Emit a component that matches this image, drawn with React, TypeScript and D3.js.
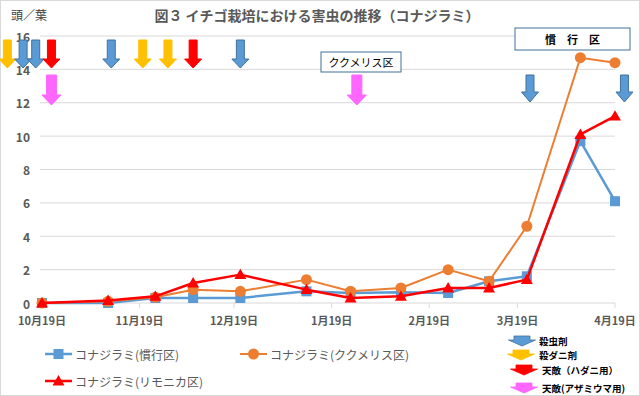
import React, { useEffect, useRef } from "react";
import * as d3 from "d3";

// survey dates (10/19 .. 4/19)
const surveyDates = [
  "2014-10-19", "2014-11-09", "2014-11-24", "2014-12-06", "2014-12-21",
  "2015-01-11", "2015-01-25", "2015-02-10", "2015-02-25", "2015-03-10",
  "2015-03-22", "2015-04-08", "2015-04-19",
];
// 頭／葉
const kankou = [0, 0, 0.3, 0.3, 0.3, 0.7, 0.6, 0.65, 0.6, 1.3, 1.6, 9.7, 6.1];
const kukumeris = [0, 0.1, 0.35, 0.8, 0.7, 1.4, 0.7, 0.9, 2.0, 1.3, 4.6, 14.7, 14.4];
const rimonika = [0, 0.15, 0.4, 1.2, 1.7, 0.8, 0.3, 0.4, 0.9, 0.9, 1.4, 10.1, 11.2];

const tickDates = [
  "2014-10-19", "2014-11-19", "2014-12-19", "2015-01-19",
  "2015-02-19", "2015-03-19", "2015-04-19",
];
const yTicks = [0, 2, 4, 6, 8, 10, 12, 14, 16];

// treatment arrows: upper row and lower row
const sprayUpper = [
  { date: "2014-10-08", kind: "mite" },
  { date: "2014-10-13", kind: "insect" },
  { date: "2014-10-17", kind: "insect" },
  { date: "2014-10-22", kind: "enemySpider" },
  { date: "2014-11-10", kind: "insect" },
  { date: "2014-11-20", kind: "mite" },
  { date: "2014-11-28", kind: "mite" },
  { date: "2014-12-06", kind: "enemySpider" },
  { date: "2014-12-21", kind: "insect" },
];
const sprayLower = [
  { date: "2014-10-22", kind: "enemyThrips" },
  { date: "2015-01-27", kind: "enemyThrips" },
  { date: "2015-03-23", kind: "insect" },
  { date: "2015-04-22", kind: "insect" },
];

const seriesNames = ["コナジラミ(慣行区)", "コナジラミ(ククメリス区)", "コナジラミ(リモニカ区)"];
const arrowKinds = ["insect", "mite", "enemySpider", "enemyThrips"];
const arrowNames = ["殺虫剤", "殺ダニ剤", "天敵（ハダニ用）", "天敵(アザミウマ用)"];

const arrowFill: Record<string, string> = {
  insect: "#5b9bd5",
  mite: "#ffc000",
  enemySpider: "#ff0000",
  enemyThrips: "#ff66ff",
};
const arrowStroke: Record<string, string> = {
  insect: "#41719c",
  mite: "#ffc000",
  enemySpider: "#ff0000",
  enemyThrips: "#ff66ff",
};

const FONT = "'Noto Sans CJK JP', 'Noto Sans', sans-serif";

function arrowPath(cx: number, top: number, h: number, sw: number, hw: number, hh: number) {
  const p = d3.path();
  p.moveTo(cx - sw / 2, top);
  p.lineTo(cx + sw / 2, top);
  p.lineTo(cx + sw / 2, top + h - hh);
  p.lineTo(cx + hw / 2, top + h - hh);
  p.lineTo(cx, top + h);
  p.lineTo(cx - hw / 2, top + h - hh);
  p.lineTo(cx - sw / 2, top + h - hh);
  p.closePath();
  return p.toString();
}

const App: React.FC = () => {
  const ref = useRef<SVGSVGElement | null>(null);

  useEffect(() => {
    if (!ref.current) return;
    const width = 640;
    const height = 396;
    const svg = d3.select(ref.current);
    svg.selectAll("*").remove();
    svg.attr("width", width).attr("height", height);

    const parse = d3.timeParse("%Y-%m-%d");
    const x = d3.scaleTime()
      .domain([parse("2014-10-19")!, parse("2015-04-19")!])
      .range([42, 615]);
    const y = d3.scaleLinear().domain([0, 16]).range([303, 36]);

    svg.append("rect")
      .attr("x", 0.5).attr("y", 0.5)
      .attr("width", width - 1).attr("height", height - 1)
      .attr("fill", "#fff").attr("stroke", "#d9d9d9");

    // grid
    yTicks.forEach(t => {
      svg.append("line")
        .attr("x1", 40).attr("x2", 615)
        .attr("y1", y(t)).attr("y2", y(t))
        .attr("stroke", "#d9d9d9").attr("stroke-width", 1);
      svg.append("text")
        .attr("x", 30).attr("y", y(t))
        .attr("text-anchor", "end").attr("dominant-baseline", "central")
        .attr("font-family", FONT).attr("font-size", 12).attr("font-weight", "bold")
        .attr("fill", "#595959")
        .text(t);
    });

    // x ticks
    tickDates.forEach(d => {
      const xx = x(parse(d)!);
      svg.append("line")
        .attr("x1", xx).attr("x2", xx).attr("y1", 303).attr("y2", 308)
        .attr("stroke", "#d9d9d9");
      svg.append("text")
        .attr("x", xx).attr("y", 320)
        .attr("text-anchor", "middle").attr("dominant-baseline", "central")
        .attr("font-family", FONT).attr("font-size", 11).attr("font-weight", "bold")
        .attr("fill", "#595959")
        .text(d3.timeFormat("%-m月%-d日")(parse(d)!));
    });

    // title and unit
    svg.append("text")
      .attr("x", 317).attr("y", 15)
      .attr("text-anchor", "middle").attr("dominant-baseline", "central")
      .attr("font-family", FONT).attr("font-size", 14).attr("font-weight", "bold")
      .attr("fill", "#595959")
      .text("図３ イチゴ栽培における害虫の推移（コナジラミ）");
    svg.append("text")
      .attr("x", 11).attr("y", 14)
      .attr("dominant-baseline", "central")
      .attr("font-family", FONT).attr("font-size", 12)
      .attr("fill", "#404040")
      .text("頭／葉");

    // region labels
    const boxes = [
      { x: 321, y: 52, w: 80, h: 20, label: "ククメリス区", bold: false },
      { x: 515, y: 28, w: 115, h: 22, label: "慣　行　区", bold: true },
    ];
    boxes.forEach(b => {
      svg.append("rect")
        .attr("x", b.x).attr("y", b.y).attr("width", b.w).attr("height", b.h)
        .attr("fill", "#fff").attr("stroke", "#41719c").attr("stroke-width", 1);
      svg.append("text")
        .attr("x", b.x + b.w / 2).attr("y", b.y + b.h / 2)
        .attr("text-anchor", "middle").attr("dominant-baseline", "central")
        .attr("font-family", FONT).attr("font-size", 11)
        .attr("font-weight", b.bold ? "bold" : "normal")
        .attr("fill", "#000")
        .text(b.label);
    });

    // arrows
    sprayUpper.forEach(s => {
      svg.append("path")
        .attr("d", arrowPath(x(parse(s.date)!), 40, 28, 8, 17, 9))
        .attr("fill", arrowFill[s.kind]).attr("stroke", arrowStroke[s.kind]).attr("stroke-width", 1);
    });
    sprayLower.forEach(s => {
      const pink = s.kind === "enemyThrips";
      svg.append("path")
        .attr("d", arrowPath(x(parse(s.date)!), 75, pink ? 30 : 27, pink ? 10 : 8, pink ? 19 : 17, 10))
        .attr("fill", arrowFill[s.kind]).attr("stroke", arrowStroke[s.kind]).attr("stroke-width", 1);
    });

    // series
    const dates = surveyDates.map(d => parse(d)!);
    const seriesList = [
      { values: kankou, color: "#5b9bd5", width: 2.5, marker: "square" },
      { values: kukumeris, color: "#ed7d31", width: 2, marker: "circle" },
      { values: rimonika, color: "#ff0000", width: 2.5, marker: "triangle" },
    ];
    const line = d3.line<[Date, number]>().x(d => x(d[0])).y(d => y(d[1]));

    const drawMarker = (g: d3.Selection<SVGGElement, unknown, null, undefined>, kind: string, cx: number, cy: number, color: string) => {
      if (kind === "square") {
        g.append("rect").attr("x", cx - 5).attr("y", cy - 5).attr("width", 10).attr("height", 10)
          .attr("fill", color);
      } else if (kind === "circle") {
        g.append("circle").attr("cx", cx).attr("cy", cy).attr("r", 5.5).attr("fill", color);
      } else {
        g.append("path")
          .attr("d", d3.symbol().type(d3.symbolTriangle).size(62)())
          .attr("transform", `translate(${cx},${cy + 1})`)
          .attr("fill", color);
      }
    };

    seriesList.forEach(s => {
      const pts = dates.map((d, i) => [d, s.values[i]] as [Date, number]);
      const g = svg.append("g");
      g.append("path")
        .attr("d", line(pts) || "")
        .attr("fill", "none").attr("stroke", s.color).attr("stroke-width", s.width)
        .attr("stroke-linejoin", "round");
      pts.forEach(p => drawMarker(g, s.marker, x(p[0]), y(p[1]), s.color));
    });

    // series legend
    const legendPos = [
      { x: 45, y: 354 },
      { x: 240, y: 354 },
      { x: 45, y: 381 },
    ];
    seriesList.forEach((s, i) => {
      const p = legendPos[i];
      const g = svg.append("g");
      g.append("line")
        .attr("x1", p.x).attr("x2", p.x + 27).attr("y1", p.y).attr("y2", p.y)
        .attr("stroke", s.color).attr("stroke-width", s.width);
      drawMarker(g, s.marker, p.x + 13.5, p.y, s.color);
      g.append("text")
        .attr("x", p.x + 30).attr("y", p.y)
        .attr("dominant-baseline", "central")
        .attr("font-family", FONT).attr("font-size", 12)
        .attr("fill", "#595959")
        .text(seriesNames[i]);
    });

    // arrow legend
    const arrowLegendPos = [
      { cx: 522, top: 336, tx: 539, ty: 341 },
      { cx: 521, top: 350, tx: 539, ty: 355 },
      { cx: 524, top: 365, tx: 542, ty: 370 },
      { cx: 524, top: 383, tx: 542, ty: 388 },
    ];
    arrowKinds.forEach((k, i) => {
      const p = arrowLegendPos[i];
      svg.append("path")
        .attr("d", arrowPath(p.cx, p.top, 10, 16, 27, 6))
        .attr("fill", arrowFill[k]).attr("stroke", arrowStroke[k]).attr("stroke-width", 0.8);
      svg.append("text")
        .attr("x", p.tx).attr("y", p.ty)
        .attr("dominant-baseline", "central")
        .attr("font-family", FONT).attr("font-size", 9.5).attr("font-weight", "bold")
        .attr("fill", "#000")
        .text(arrowNames[i]);
    });
  }, []);

  return (
    <svg ref={ref} style={{ position: "absolute", left: 0, top: 0, display: "block" }} />
  );
};

export default App;
